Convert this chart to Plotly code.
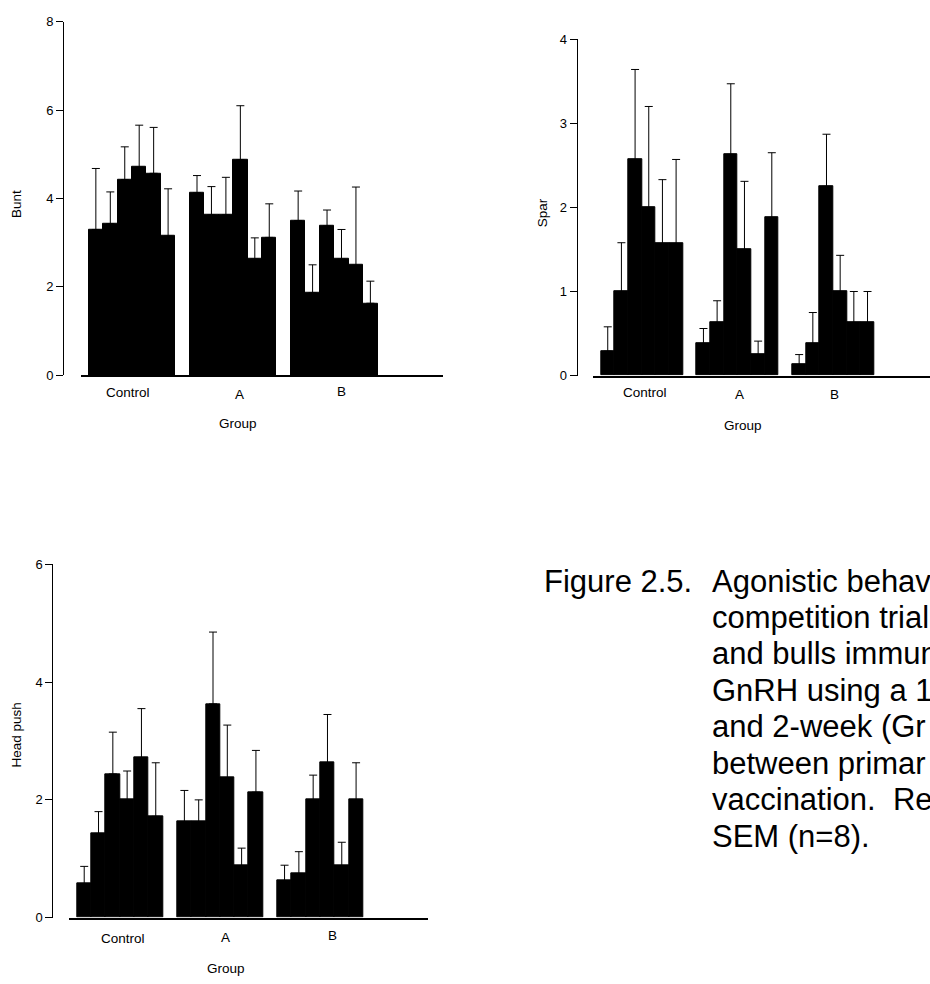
import plotly.graph_objects as go

# ---------------- data ----------------
groups = ["Control", "A", "B"]
bars_per_group = 6

bunt_mean = [3.30, 3.43, 4.43, 4.71, 4.57, 3.15,
             4.13, 3.63, 3.63, 4.88, 2.63, 3.12,
             3.50, 1.87, 3.38, 2.63, 2.49, 1.63]
bunt_sem = [1.38, 0.72, 0.74, 0.95, 1.04, 1.07,
            0.39, 0.64, 0.85, 1.22, 0.48, 0.76,
            0.67, 0.63, 0.36, 0.67, 1.77, 0.50]

spar_mean = [0.29, 1.00, 2.57, 2.00, 1.57, 1.57,
             0.38, 0.63, 2.63, 1.50, 0.25, 1.88,
             0.13, 0.38, 2.25, 1.00, 0.63, 0.63]
spar_sem = [0.29, 0.58, 1.07, 1.20, 0.76, 1.00,
            0.18, 0.26, 0.84, 0.81, 0.16, 0.77,
            0.12, 0.37, 0.62, 0.43, 0.37, 0.37]

head_mean = [0.58, 1.43, 2.44, 2.00, 2.72, 1.72,
             1.63, 1.63, 3.63, 2.38, 0.88, 2.13,
             0.63, 0.75, 2.00, 2.63, 0.88, 2.00]
head_sem = [0.29, 0.37, 0.71, 0.49, 0.83, 0.91,
            0.53, 0.37, 1.22, 0.89, 0.30, 0.71,
            0.26, 0.37, 0.42, 0.82, 0.40, 0.63]

y_titles = ["Bunt", "Spar", "Head push"]
y_ticks = [[0, 2, 4, 6, 8], [0, 1, 2, 3, 4], [0, 2, 4, 6]]
x_title = "Group"

caption_head = "Figure 2.5."
caption_lines = ["Agonistic behav", "competition trial", "and bulls immun",
                 "GnRH using a 1", "and 2-week (Gr", "between primar",
                 "vaccination.  Re", "SEM (n=8)."]

# ---------------- layout (pixels) ----------------
W, H = 930, 984
FONT = "Liberation Sans, Arial, sans-serif"


def fx(p):
    return p / W


def fy(p):
    return 1 - p / H


panels = [
    dict(mean=bunt_mean, sem=bunt_sem, title=y_titles[0], ticks=y_ticks[0],
         yaxis_x=63, ytop=15, ybot=374, xl=81, xr=443, xrange=[-0.504, 3.075],
         lab_dx=[-4, 6, 7], lab_y=[391, 394, 390], gtitle=(238, 423), ytitle=(17, 200)),
    dict(mean=spar_mean, sem=spar_sem, title=y_titles[1], ticks=y_ticks[1],
         yaxis_x=576.7, ytop=32.7, ybot=374.3, xl=593.3, xr=930, xrange=[-0.508, 3.01],
         lab_dx=[3, 1.5, 1], lab_y=[391, 393, 393], gtitle=(743, 425), ytitle=(542.7, 208.7)),
    dict(mean=head_mean, sem=head_sem, title=y_titles[2], ticks=y_ticks[2],
         yaxis_x=52.3, ytop=566, ybot=924.7, xl=69.3, xr=428.3, xrange=[-0.506, 3.078],
         lab_dx=[3, 5, 12], lab_y=[945.7, 945, 942.7], gtitle=(226, 976), ytitle=(16.7, 739)),
]

fig = go.Figure()
annotations = []
layout_axes = {}

for i, p in enumerate(panels):
    n = i + 1
    xa = "x" if n == 1 else f"x{n}"
    ya = "y" if n == 1 else f"y{n}"
    xs = [g + (j - (bars_per_group - 1) / 2) / (bars_per_group + 1)
          for g in range(len(groups)) for j in range(bars_per_group)]
    fig.add_trace(go.Bar(
        x=xs, y=p["mean"], width=1 / (bars_per_group + 1),
        marker=dict(color="black", line=dict(width=1, color="black")),
        error_y=dict(type="data", symmetric=False, array=p["sem"],
                     arrayminus=[0] * len(p["sem"]), color="black",
                     thickness=1, width=4),
        xaxis=xa, yaxis=ya, showlegend=False,
    ))
    xkey = "xaxis" if n == 1 else f"xaxis{n}"
    ykey = "yaxis" if n == 1 else f"yaxis{n}"
    layout_axes[xkey] = dict(
        domain=[fx(p["xl"]), fx(p["xr"])], range=p["xrange"], anchor=ya,
        showline=True, linecolor="black", linewidth=2, ticks="",
        showticklabels=False, showgrid=False, zeroline=False,
    )
    layout_axes[ykey] = dict(
        domain=[fy(p["ybot"]), fy(p["ytop"])], range=[0, p["ticks"][-1]],
        anchor="free", position=fx(p["yaxis_x"]),
        showline=True, linecolor="black", linewidth=1,
        ticks="outside", ticklen=7, tickwidth=1, tickcolor="black",
        tickvals=p["ticks"], tickfont=dict(family=FONT, size=13, color="black"),
        showgrid=False, zeroline=False,
    )
    for g, name in enumerate(groups):
        annotations.append(dict(
            text=name, xref=xa, x=g, xshift=p["lab_dx"][g],
            yref="paper", y=fy(p["lab_y"][g]), xanchor="center", yanchor="middle",
            showarrow=False, font=dict(family=FONT, size=13.5, color="black")))
    annotations.append(dict(
        text=x_title, xref="paper", x=fx(p["gtitle"][0]), yref="paper", y=fy(p["gtitle"][1]),
        xanchor="center", yanchor="middle", showarrow=False,
        font=dict(family=FONT, size=13.5, color="black")))
    annotations.append(dict(
        text=p["title"], xref="paper", x=fx(p["ytitle"][0]), yref="paper", y=fy(p["ytitle"][1]),
        xanchor="center", yanchor="middle", showarrow=False, textangle=-90,
        font=dict(family=FONT, size=13.5, color="black")))

# caption
cap_font = dict(family=FONT, size=31, color="black")
annotations.append(dict(text=caption_head, xref="paper", yref="paper",
                        x=fx(542), y=fy(583), xanchor="left", yanchor="middle",
                        showarrow=False, font=cap_font))
for k, line in enumerate(caption_lines):
    annotations.append(dict(text=line, xref="paper", yref="paper",
                            x=fx(710), y=fy(583 + 37 * k), xanchor="left", yanchor="middle",
                            showarrow=False, font=cap_font))

fig.update_layout(
    width=W, height=H, margin=dict(l=0, r=0, t=0, b=0),
    paper_bgcolor="white", plot_bgcolor="white",
    bargap=0, annotations=annotations, **layout_axes,
)

fig.write_html("out.html")
